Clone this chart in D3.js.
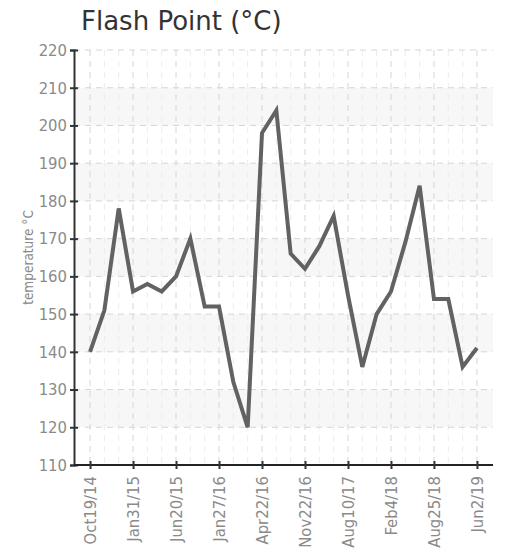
<!DOCTYPE html>
<html>
<head>
<meta charset="utf-8">
<script src="https://cdnjs.cloudflare.com/ajax/libs/d3/7.8.5/d3.min.js"></script>
<style>
body { margin: 0; background: #fff; }
</style>
</head>
<body>
<script>
var w = 506;
var h = 551;
var margin = {top: 50, right: 13, bottom: 86, left: 74};

// one value per sample
var values = [140, 151, 178, 156, 158, 156, 160, 170, 152, 152, 132, 120, 198, 204,
    166, 162, 168, 176, 155, 136, 150, 156, 169, 184, 154, 154, 136, 141];
// every third sample carries a date label
var tickIndex = [0, 3, 6, 9, 12, 15, 18, 21, 24, 27];
var tickLabels = ["Oct19/14", "Jan31/15", "Jun20/15", "Jan27/16", "Apr22/16",
    "Nov22/16", "Aug10/17", "Feb4/18", "Aug25/18", "Jun2/19"];
var yTicks = [110, 120, 130, 140, 150, 160, 170, 180, 190, 200, 210, 220];
var bands = [120, 140, 160, 180, 200];

var svg = d3.select("body")
    .append("svg")
    .attr("width", w)
    .attr("height", h);

var xScale = d3.scalePoint()
    .domain(d3.range(values.length))
    .range([margin.left, w - margin.right])
    .padding(1.12);

var yScale = d3.scaleLinear()
    .domain([110, 220])
    .range([h - margin.bottom, margin.top]);

var x0 = margin.left, x1 = w - margin.right;
var y0 = h - margin.bottom, y1 = margin.top;

// shaded bands
svg.selectAll("rect.band")
    .data(bands)
    .enter()
    .append("rect")
    .attr("x", x0)
    .attr("width", x1 - x0)
    .attr("y", function(d) { return yScale(d + 10); })
    .attr("height", function(d) { return yScale(d) - yScale(d + 10); })
    .attr("fill", "#f7f7f7");

// minor vertical grid (every sample)
svg.selectAll("line.vminor")
    .data(d3.range(values.length).filter(function(i) { return i % 3 != 0; }))
    .enter()
    .append("line")
    .attr("x1", function(d) { return xScale(d); })
    .attr("x2", function(d) { return xScale(d); })
    .attr("y1", y1)
    .attr("y2", y0)
    .attr("stroke", "#ececec")
    .attr("stroke-width", 1)
    .attr("stroke-dasharray", "6,5");

// major vertical grid
svg.selectAll("line.vmajor")
    .data(tickIndex)
    .enter()
    .append("line")
    .attr("x1", function(d) { return xScale(d); })
    .attr("x2", function(d) { return xScale(d); })
    .attr("y1", y1)
    .attr("y2", y0)
    .attr("stroke", "#d6d6d6")
    .attr("stroke-width", 1)
    .attr("stroke-dasharray", "6,5");

// horizontal grid
svg.selectAll("line.hgrid")
    .data(yTicks.slice(1))
    .enter()
    .append("line")
    .attr("x1", x0)
    .attr("x2", x1)
    .attr("y1", function(d) { return yScale(d); })
    .attr("y2", function(d) { return yScale(d); })
    .attr("stroke", "#d6d6d6")
    .attr("stroke-width", 1)
    .attr("stroke-dasharray", "6,5");

// the line
var line = d3.line()
    .x(function(d, i) { return xScale(i); })
    .y(function(d) { return yScale(d); });

svg.append("path")
    .datum(values)
    .attr("d", line)
    .attr("fill", "none")
    .attr("stroke", "#626262")
    .attr("stroke-width", 4)
    .attr("stroke-linejoin", "miter");

var tickFont = "'DejaVu Sans Condensed', 'DejaVu Sans', sans-serif";

// y axis
var yAxis = d3.axisLeft(yScale)
    .tickValues(yTicks)
    .tickSize(4)
    .tickPadding(3);
var gy = svg.append("g")
    .attr("transform", "translate(" + x0 + ",0)")
    .call(yAxis);
gy.select(".domain").attr("stroke", "#333").attr("stroke-width", 2);
gy.selectAll(".tick line").attr("x2", 4).attr("x1", -4).attr("stroke", "#333").attr("stroke-width", 2);
gy.selectAll(".tick text")
    .attr("x", -7)
    .attr("font-family", tickFont)
    .attr("font-size", "16.5px")
    .attr("fill", "#8a8a8a");

// x axis
var xAxis = d3.axisBottom(xScale)
    .tickValues(tickIndex)
    .tickFormat(function(d) { return tickLabels[tickIndex.indexOf(d)]; })
    .tickSize(4);
var gx = svg.append("g")
    .attr("transform", "translate(0," + y0 + ")")
    .call(xAxis);
gx.select(".domain").attr("d", "M" + x0 + ",0H" + x1).attr("stroke", "#222").attr("stroke-width", 2);
gx.selectAll(".tick line").attr("y1", -4).attr("y2", 4).attr("stroke", "#333").attr("stroke-width", 2);
gx.selectAll(".tick text")
    .attr("transform", "rotate(-90)")
    .attr("x", -11)
    .attr("y", 0)
    .attr("dy", "0.35em")
    .attr("text-anchor", "end")
    .attr("font-family", tickFont)
    .attr("font-size", "16.5px")
    .attr("fill", "#8a8a8a");

// y axis title
svg.append("text")
    .attr("transform", "translate(33," + ((y0 + y1) / 2) + ") rotate(-90)")
    .attr("text-anchor", "middle")
    .attr("font-family", tickFont)
    .attr("font-size", "13.5px")
    .attr("fill", "#8a8a8a")
    .text("temperature °C");

// chart title
svg.append("text")
    .attr("x", 81)
    .attr("y", 30)
    .attr("font-family", "'DejaVu Sans', sans-serif")
    .attr("font-size", "26px")
    .attr("fill", "#333")
    .text("Flash Point (°C)");
</script>
</body>
</html>
